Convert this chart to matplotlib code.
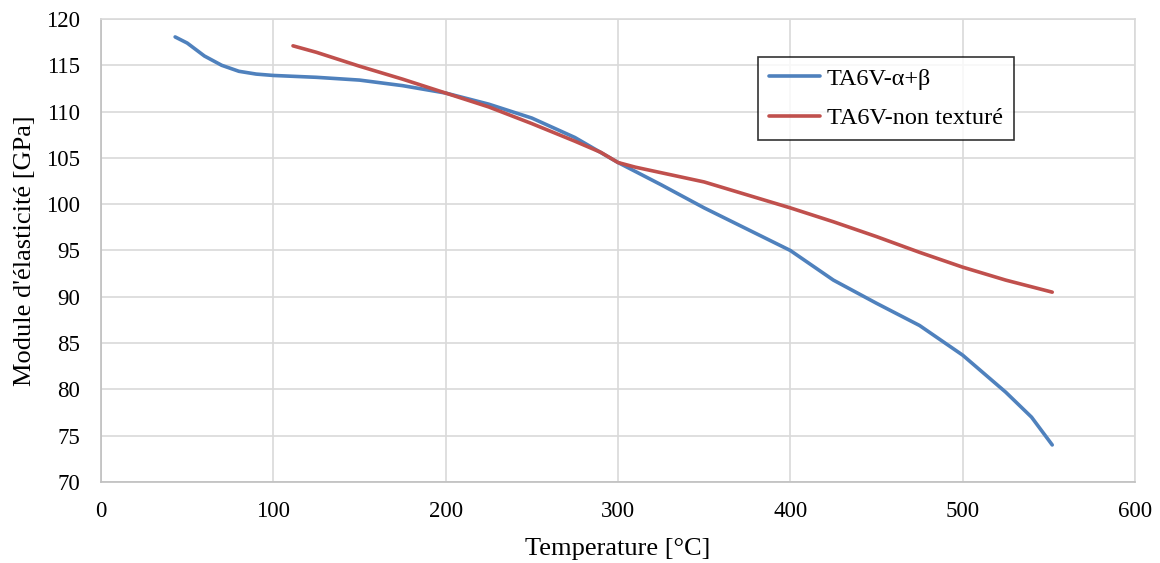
import matplotlib.pyplot as plt

# Valeurs
temp_ab = [43, 50, 60, 70, 80, 90, 100, 125, 150, 175, 200, 225, 250, 275, 300,
           325, 350, 375, 400, 425, 450, 475, 500, 525, 540, 552]
module_ab = [118.06, 117.4, 116.0, 115.0, 114.35, 114.05, 113.9, 113.7, 113.4, 112.8,
             112.0, 110.8, 109.3, 107.2, 104.5, 102.1, 99.6, 97.3, 95.0, 91.8,
             89.3, 86.9, 83.7, 79.7, 77.0, 74.0]

temp_nt = [111.4, 125, 150, 175, 200, 225, 250, 275, 290, 300, 310, 330, 350,
           375, 400, 425, 450, 475, 500, 525, 552]
module_nt = [117.1, 116.4, 114.9, 113.5, 112.0, 110.5, 108.7, 106.8, 105.6, 104.5,
             104.0, 103.2, 102.4, 101.0, 99.6, 98.1, 96.5, 94.8, 93.2, 91.8, 90.5]

labels = ['TA6V-α+β', 'TA6V-non texturé']

plt.rcParams['font.family'] = ['Liberation Serif', 'DejaVu Serif']

fig = plt.figure(figsize=(11.6, 5.63), dpi=100)
ax = fig.add_axes([0.0871, 0.1439, 0.8913, 0.8224])

ax.plot(temp_ab, module_ab, color='#4f81bd', lw=2.6, label=labels[0],
        solid_capstyle='round', solid_joinstyle='round')
ax.plot(temp_nt, module_nt, color='#c0504d', lw=2.6, label=labels[1],
        solid_capstyle='round', solid_joinstyle='round')

ax.set_xlim(0, 600)
ax.set_ylim(70, 120)
ax.set_xticks(range(0, 601, 100))
ax.set_yticks(range(70, 121, 5))
ax.grid(True, color='#d9d9d9', lw=1.2)
ax.set_axisbelow(True)
for s in ax.spines.values():
    s.set_color('#d9d9d9')
    s.set_linewidth(1.2)
ax.spines['bottom'].set_color('#bfbfbf')
ax.spines['left'].set_color('#bfbfbf')
ax.tick_params(length=0, labelsize=16.5)
ax.tick_params(axis='x', pad=14)
ax.tick_params(axis='y', pad=15)

ax.set_xlabel('Temperature [°C]', fontsize=19)
ax.set_ylabel("Module d'élasticité [GPa]", fontsize=19)
# positions des titres d'axes (centre du texte)
ax.xaxis.set_label_coords(0.5, -0.145)
ax.yaxis.set_label_coords(-0.074, 0.5)
ax.xaxis.label.set_va('center')
ax.yaxis.label.set_va('center')

leg = ax.legend(loc='upper left', bbox_to_anchor=(0.635, 0.918), fontsize=17.5,
                frameon=True, fancybox=False, handlelength=2.1, handletextpad=0.3,
                borderpad=0.45, labelspacing=0.72, borderaxespad=0)
leg.get_frame().set_edgecolor('black')
leg.get_frame().set_linewidth(1.2)

fig.savefig('out.png', dpi=100)
